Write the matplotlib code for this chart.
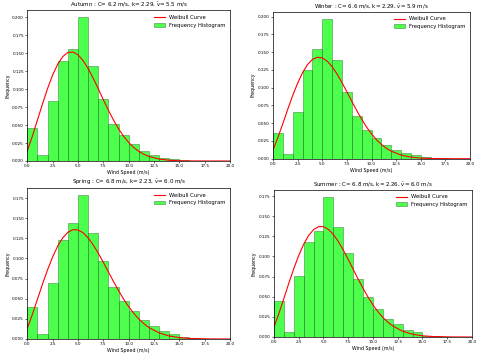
import matplotlib
matplotlib.use('Agg')
import matplotlib.pyplot as plt

# histogram bins (1 m/s wide, 0..20)
bin_edges = list(range(21))

# frequency of each bin
autumn_freq = [0.046, 0.009, 0.084, 0.140, 0.156, 0.200, 0.132, 0.086, 0.052, 0.036,
               0.024, 0.0135, 0.0083, 0.0042, 0.0023, 0.001, 0.0003, 0.0001, 0.0, 0.0]
winter_freq = [0.0356, 0.0061, 0.0656, 0.1255, 0.155, 0.197, 0.1395, 0.0932, 0.060, 0.041,
               0.029, 0.0187, 0.0117, 0.0077, 0.0047, 0.0023, 0.001, 0.0003, 0.0001, 0.0]
spring_freq = [0.0393, 0.0058, 0.0699, 0.1233, 0.144, 0.1787, 0.1316, 0.0972, 0.0648, 0.0468,
               0.0344, 0.0232, 0.0157, 0.0095, 0.0058, 0.0025, 0.0012, 0.0003, 0.0001, 0.0]
summer_freq = [0.0442, 0.0062, 0.0759, 0.1176, 0.1312, 0.1742, 0.1362, 0.104, 0.0719, 0.0494,
               0.035, 0.0222, 0.0156, 0.0087, 0.0057, 0.0015, 0.0008, 0.0002, 0.0001, 0.0]

# weibull curve points
curve_x = [0, 0.5, 1, 1.5, 2, 2.5, 3, 3.5, 4, 4.5, 5, 5.5, 6, 6.5, 7, 7.5, 8, 8.5, 9, 9.5,
           10, 10.5, 11, 11.5, 12, 13, 14, 15, 16, 18, 20]
autumn_curve = [0.0143, 0.0346, 0.0570, 0.0796, 0.1010, 0.1198, 0.1349, 0.1455, 0.1512, 0.1519,
                0.1480, 0.1400, 0.1288, 0.1153, 0.1006, 0.0854, 0.0708, 0.0571, 0.0449, 0.0344,
                0.0258, 0.0188, 0.0134, 0.0093, 0.0063, 0.0027, 0.0010, 0.0003, 0.0001, 0.0, 0.0]
winter_curve = [0.0124, 0.0300, 0.0496, 0.0697, 0.0890, 0.1064, 0.1211, 0.1324, 0.1397, 0.1428,
                0.1419, 0.1373, 0.1296, 0.1192, 0.1071, 0.0941, 0.0807, 0.0677, 0.0555, 0.0445,
                0.0349, 0.0268, 0.0201, 0.0147, 0.0106, 0.0051, 0.0022, 0.0009, 0.0003, 0.0, 0.0]
spring_curve = [0.0132, 0.0306, 0.0494, 0.0682, 0.0860, 0.1020, 0.1154, 0.1257, 0.1325, 0.1358,
                0.1355, 0.1320, 0.1256, 0.1169, 0.1066, 0.0952, 0.0833, 0.0715, 0.0601, 0.0496,
                0.0401, 0.0319, 0.0248, 0.0190, 0.0142, 0.0076, 0.0037, 0.0017, 0.0007, 0.0001, 0.0]
summer_curve = [0.0124, 0.0293, 0.0479, 0.0668, 0.0849, 0.1013, 0.1152, 0.1260, 0.1333, 0.1370,
                0.1370, 0.1336, 0.1273, 0.1185, 0.1080, 0.0963, 0.0840, 0.0719, 0.0603, 0.0495,
                0.0398, 0.0314, 0.0243, 0.0184, 0.0137, 0.0071, 0.0034, 0.0015, 0.0006, 0.0001, 0.0]

titles = [r'Autumn : C= 6.2 m/s, k= 2.29, $\bar{v}$= 5.5 m/s',
          r'Winter : C= 6.6 m/s, k= 2.29, $\bar{v}$= 5.9 m/s',
          r'Spring : C= 6.8 m/s, k= 2.23, $\bar{v}$= 6.0 m/s',
          r'Summer : C= 6.8 m/s, k= 2.26, $\bar{v}$= 6.0 m/s']

# axes boxes in figure fractions
positions = [[0.0569, 0.5478, 0.4223, 0.4233],
             [0.5688, 0.5542, 0.4104, 0.4129],
             [0.0569, 0.0478, 0.4223, 0.4242],
             [0.5708, 0.0534, 0.4125, 0.4138]]


def draw_graph():
    fig = plt.figure(figsize=(4.8, 3.56), dpi=100)
    freqs = [autumn_freq, winter_freq, spring_freq, summer_freq]
    curves = [autumn_curve, winter_curve, spring_curve, summer_curve]
    for pos, title, freq, curve in zip(positions, titles, freqs, curves):
        ax = fig.add_axes(pos)
        ax.bar(bin_edges[:-1], freq, width=1, align='edge', color='lime',
               edgecolor='#1a5a1a', linewidth=0.4, alpha=0.7, label='Frequency Histogram')
        ax.plot(curve_x, curve, color='red', linewidth=0.8, label='Weibull Curve')
        ax.set_xlim(0, 20)
        ax.set_ylim(0, max(freq) * 1.05)
        ax.set_title(title, fontsize=4.0, pad=2.5)
        ax.set_xlabel('Wind Speed (m/s)', fontsize=3.4, labelpad=1.5)
        ax.set_ylabel('Frequency', fontsize=3.4, labelpad=1.5)
        ax.tick_params(labelsize=3.0, length=1.2, width=0.4, pad=1.2)
        for s in ax.spines.values():
            s.set_linewidth(0.5)
        ax.legend(fontsize=3.8, loc='upper right', frameon=False)
    plt.savefig('out.png', dpi=100)


if __name__ == '__main__':
    draw_graph()
